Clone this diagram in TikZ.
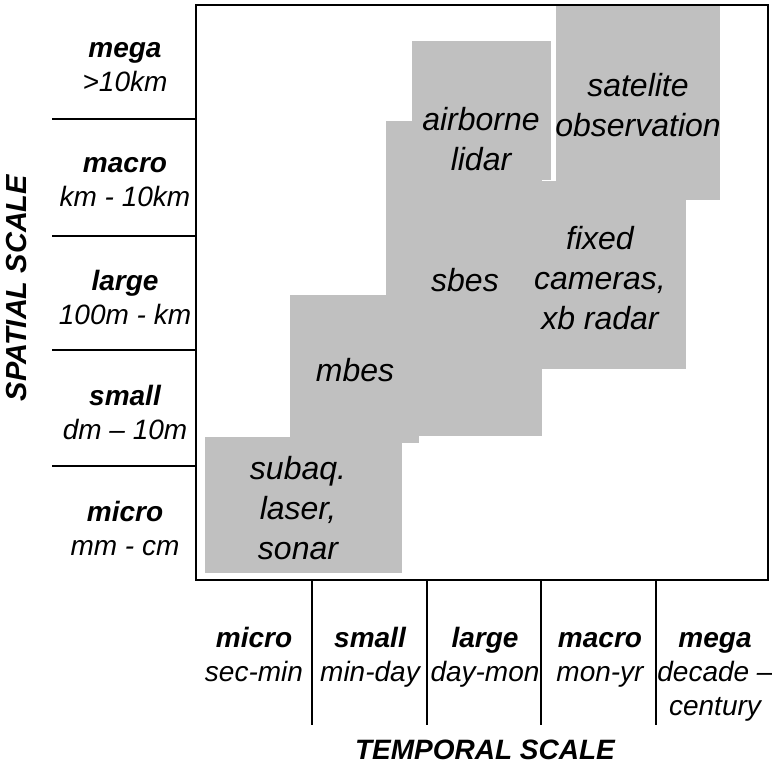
\documentclass[tikz,border=0pt]{standalone}
\usepackage{fontspec}
\setmainfont{Liberation Sans}
\definecolor{boxgray}{HTML}{C0C0C0}
\begin{document}
\begin{tikzpicture}[x=1pt,y=-1pt,
  graybox/.style={fill=boxgray},
  boxtext/.style={align=center,inner sep=0pt,font=\fontsize{32}{40}\selectfont\itshape},
  label/.style={align=center,inner sep=0pt,font=\fontsize{28}{34}\selectfont\itshape},
  axistitle/.style={inner sep=0pt,font=\fontsize{28}{34}\selectfont\bfseries\itshape},
  frame/.style={draw=black,line width=2.5pt},
  tick/.style={draw=black,line width=2pt}]
\useasboundingbox (0,0) rectangle (772,764);
% gray coverage areas
\fill[graybox] (205,437) rectangle (402,573);
\fill[graybox] (290,295) rectangle (419,443);
\fill[graybox] (386,121) rectangle (542,436);
\fill[graybox] (514,181) rectangle (686,369);
\fill[graybox] (412,41) rectangle (551,180);
\fill[graybox] (556,5) rectangle (720,200);
% frame
\draw[frame] (196,5) rectangle (768,580);
% spatial ticks
\foreach \yy in {119,236,350,466} \draw[tick] (52,\yy) -- (196,\yy);
% temporal ticks
\foreach \xx in {312,427,541,656} \draw[tick] (\xx,580) -- (\xx,725);
% box texts
\node[boxtext] (sat) at (638,105) {satelite\\observation};
\node[boxtext] (air) at (481,139) {airborne\\lidar};
\node[boxtext] (sbes) at (465,280) {sbes};
\node[boxtext] (fix) at (600,278) {fixed\\cameras,\\xb radar};
\node[boxtext] (mbes) at (355,370) {mbes};
\node[boxtext] (sub) at (298,508) {subaq.\\laser,\\sonar};
% spatial labels
\node[label] (s1) at (125,67) {\textbf{mega}\\>10km};
\node[label] (s2) at (125,182) {\textbf{macro}\\km - 10km};
\node[label] (s3) at (125,297) {\textbf{large}\\100m - km};
\node[label] (s4) at (125,412) {\textbf{small}\\dm – 10m};
\node[label] (s5) at (125,528) {\textbf{micro}\\mm - cm};
% temporal labels
\node[label,anchor=north] (t1) at (254,623) {\strut\textbf{micro}\\sec-min};
\node[label,anchor=north] (t2) at (370,623) {\strut\textbf{small}\\min-day};
\node[label,anchor=north] (t3) at (485,623) {\strut\textbf{large}\\day-mon};
\node[label,anchor=north] (t4) at (600,623) {\strut\textbf{macro}\\mon-yr};
\node[label,anchor=north] (t5) at (715,623) {\strut\textbf{mega}\\decade –\\century};
% axis titles
\node[axistitle] (tt) at (485,750) {TEMPORAL SCALE};
\node[axistitle,rotate=90,font=\fontsize{29}{34}\selectfont\bfseries\itshape] (st) at (17,288) {SPATIAL SCALE};
\end{tikzpicture}
\end{document}
